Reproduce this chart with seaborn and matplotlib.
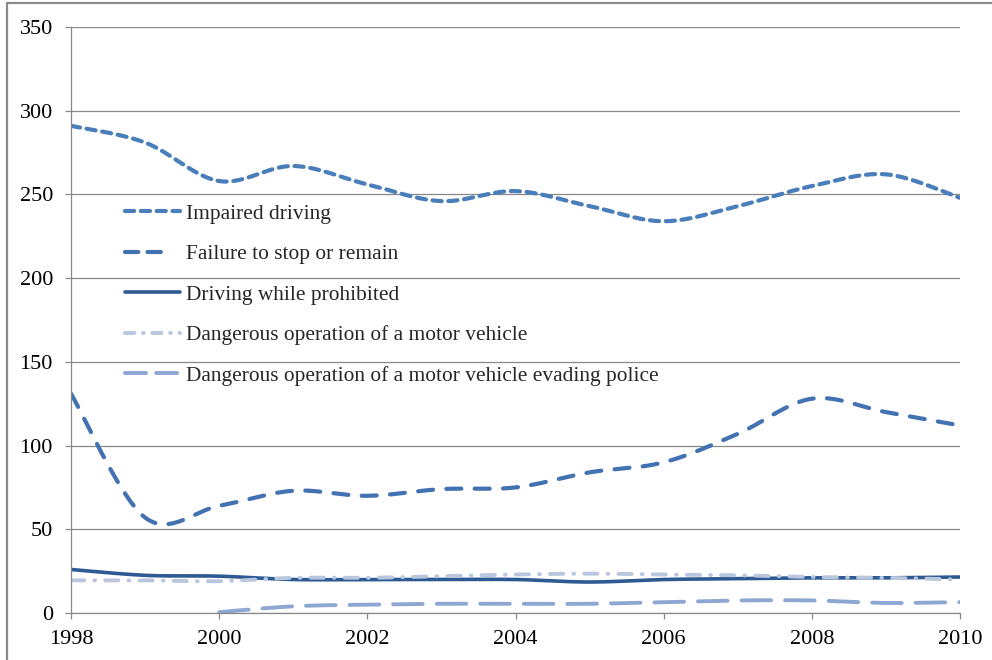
import numpy as np
import pandas as pd
import matplotlib
matplotlib.use("Agg")
import matplotlib.pyplot as plt
from matplotlib.lines import Line2D
import seaborn as sns

# Police-reported traffic offences, rate per 100,000 population
years = [1998, 1999, 2000, 2001, 2002, 2003, 2004, 2005, 2006, 2007, 2008, 2009, 2010]
impaired = [291, 281, 258, 267, 256, 246, 252, 243, 234, 243, 255, 262, 248]
failure_to_stop = [131, 57, 64, 73, 70, 74, 75, 84, 90, 107, 128, 120, 112]
prohibited = [26, 22.5, 22, 20, 20, 20, 20, 18.5, 20, 20.5, 21, 21, 21.5]
dangerous = [19.5, 19.5, 19, 21, 21, 22, 23, 23.5, 23, 22.5, 21.5, 21, 20]
evading_years = [2000, 2001, 2002, 2003, 2004, 2005, 2006, 2007, 2008, 2009, 2010]
evading = [0.5, 4, 5, 5.5, 5.5, 5.5, 6.5, 7.5, 7.5, 6, 6.5]

labels = [
    "Impaired driving",
    "Failure to stop or remain",
    "Driving while prohibited",
    "Dangerous operation of a motor vehicle",
    "Dangerous operation of a motor vehicle evading police",
]
colors = ["#4A7EBB", "#4272B2", "#2E5A94", "#B8C6DE", "#8DA7D2"]


def smooth(xs, ys, n=30):
    """Catmull-Rom curve through the points (spreadsheet-style smoothed line)."""
    xs = np.asarray(xs, float)
    ys = np.asarray(ys, float)
    px = np.concatenate([[xs[0]], xs, [xs[-1]]])
    py = np.concatenate([[ys[0]], ys, [ys[-1]]])
    ox, oy = [], []
    t = np.linspace(0, 1, n, endpoint=False)
    for i in range(1, len(px) - 2):
        p0, p1, p2, p3 = (np.array([px[j], py[j]]) for j in (i - 1, i, i + 1, i + 2))
        c1 = p1 + (p2 - p0) / 6
        c2 = p2 - (p3 - p1) / 6
        tt = t[:, None]
        pts = ((1 - tt) ** 3) * p1 + 3 * ((1 - tt) ** 2) * tt * c1 + 3 * (1 - tt) * tt ** 2 * c2 + tt ** 3 * p2
        ox.extend(pts[:, 0]); oy.extend(pts[:, 1])
    ox.append(xs[-1]); oy.append(ys[-1])
    return np.array(ox), np.array(oy)


sns.set_theme(style="white")
plt.rcParams["font.family"] = ["Liberation Serif", "DejaVu Serif"]

fig = plt.figure(figsize=(9.92, 6.60), dpi=100)
ax = fig.add_axes([71 / 992, 47 / 660, 889 / 992, 586 / 660])

# line width, dash pattern on the chart, dash pattern in the legend key
series = [
    (years, impaired, 3.0, (2.2, 1.6), (2.2, 1.6)),
    (years, failure_to_stop, 3.0, (3.6, 3.2), (3.2, 2.2, 3.2, 30)),
    (years, prohibited, 2.6, None, None),
    (years, dangerous, 2.8, (3.4, 2.6, 0.2, 2.6), (2.4, 2.2, 0.2, 2.2)),
    (evading_years, evading, 2.8, (7.6, 3.6), (5.4, 2.6)),
]

handles = []
for (xs, ys, lw, dash, key_dash), lab, col in zip(series, labels, colors):
    sx, sy = smooth(xs, ys)
    df = pd.DataFrame({"year": sx, "value": sy})
    sns.lineplot(data=df, x="year", y="value", ax=ax, color=col, lw=lw,
                 sort=False, estimator=None)
    line = ax.lines[-1]
    line.set_solid_capstyle("round")
    line.set_dash_capstyle("round")
    if dash is not None:
        line.set_dashes(dash)
    h = Line2D([], [], color=col, lw=lw, solid_capstyle="round", dash_capstyle="round")
    if key_dash is not None:
        h.set_dashes(key_dash)
    handles.append(h)

ax.set_xlim(1998, 2010)
ax.set_ylim(0, 350)
ax.set_xticks(range(1998, 2011, 2))
ax.set_yticks(range(0, 351, 50))
ax.set_xlabel("")
ax.set_ylabel("")

grid_col = "#888888"
ax.yaxis.grid(True, color=grid_col, lw=0.9)
ax.xaxis.grid(False)
for side in ("top", "right"):
    ax.spines[side].set_visible(False)
for side in ("left", "bottom"):
    ax.spines[side].set_color(grid_col)
    ax.spines[side].set_linewidth(0.9)
ax.tick_params(axis="both", which="major", direction="out", length=4.5, width=0.9,
               color=grid_col, labelsize=16, labelcolor="#000000")
ax.tick_params(axis="x", bottom=True, pad=8)
ax.tick_params(axis="y", left=True, pad=8.5)

leg = ax.legend(handles, labels, loc="upper left", bbox_to_anchor=(0.061, 0.698),
                frameon=False, fontsize=15.4, handlelength=2.57, handletextpad=0.28,
                labelspacing=0.96, borderpad=0, borderaxespad=0)

# Outer chart frame
fx = 7 / 992
fy = 1 - 3 / 660
fig.add_artist(Line2D([fx, fx], [0, fy], transform=fig.transFigure, color="#8a8a8a", lw=1.6))
fig.add_artist(Line2D([fx, 1], [fy, fy], transform=fig.transFigure, color="#8a8a8a", lw=1.6))

fig.savefig("out.png", dpi=100)
